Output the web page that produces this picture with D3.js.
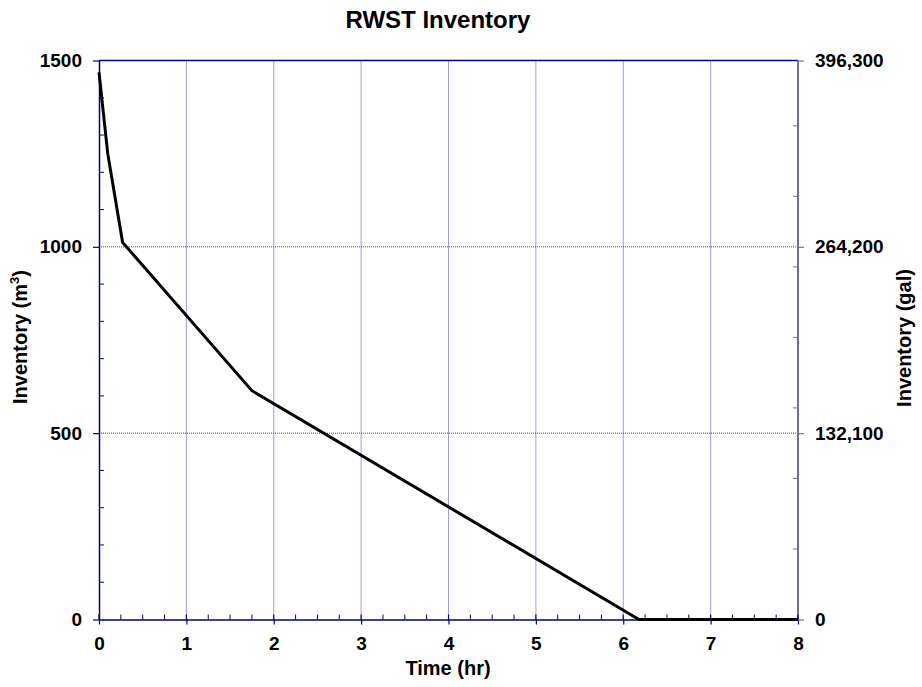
<!DOCTYPE html>
<html><head><meta charset="utf-8">
<script src="https://cdn.jsdelivr.net/npm/d3@7"></script>
<style>body{margin:0;background:#fff}svg{display:block;font-family:"Liberation Sans",Arial,sans-serif;font-weight:bold}</style>
</head><body><svg id="c" width="922" height="687"></svg>
<script>
const timeHr = [0, 0.1, 0.27, 1.75, 6.18, 8];
const inventoryM3 = [1468, 1250, 1012, 614, 0, 0];
const xTicks = [0,1,2,3,4,5,6,7,8];
const yTicks = [0,500,1000,1500];
const galTicks = [0,132100,264200,396300];
const galPerM3 = 264.2;

const svg = d3.select("#c");
const L=99, R=798, T=60.5, B=619.5;
const x = d3.scaleLinear().domain([0,8]).range([L,R]);
const y = d3.scaleLinear().domain([0,1500]).range([B,T]);
const yg = d3.scaleLinear().domain([0,1500*galPerM3]).range([B,T]);

// grid
const g = svg.append("g");
const gridColor = "#3a3ad0";
xTicks.slice(1,-1).forEach(t=>g.append("line").attr("x1",x(t)).attr("x2",x(t)).attr("y1",T).attr("y2",B)
  .attr("stroke",gridColor).attr("stroke-width",1).attr("stroke-dasharray","1,1"));
yTicks.slice(1,-1).forEach(t=>g.append("line").attr("x1",L).attr("x2",R).attr("y1",y(t)).attr("y2",y(t))
  .attr("stroke",gridColor).attr("stroke-width",1).attr("stroke-dasharray","1,1"));

const navy="#000080";
const rightCol="#6f6f9f";
svg.append("line").attr("x1",L).attr("x2",R).attr("y1",T).attr("y2",T).attr("stroke",navy).attr("stroke-width",1.5);
svg.append("line").attr("x1",R).attr("x2",R).attr("y1",T).attr("y2",B).attr("stroke",rightCol).attr("stroke-width",2);

d3.range(0,8.001,0.25).forEach(t=>{ if(Math.abs(t-Math.round(t))>1e-6)
  svg.append("line").attr("x1",x(t)).attr("x2",x(t)).attr("y1",B).attr("y2",B-5).attr("stroke",navy).attr("stroke-width",1);});
d3.range(0,1501,100).forEach(v=>{ if(v%500!==0)
  svg.append("line").attr("x1",L).attr("x2",L+5).attr("y1",y(v)).attr("y2",y(v)).attr("stroke",navy).attr("stroke-width",1);});
d3.range(50000,396300,50000).forEach(v=>
  svg.append("line").attr("x1",R).attr("x2",R-5).attr("y1",yg(v)).attr("y2",yg(v)).attr("stroke",rightCol).attr("stroke-width",1));

const xAxis = svg.append("g").attr("transform",`translate(0,${B})`)
  .call(d3.axisBottom(x).tickValues(xTicks).tickSize(5).tickSizeOuter(0).tickPadding(12).tickFormat(d3.format("d")));
const yAxis = svg.append("g").attr("transform",`translate(${L},0)`)
  .call(d3.axisLeft(y).tickValues(yTicks).tickSize(6).tickSizeOuter(0).tickPadding(11).tickFormat(d3.format("d")));
const yAxisR = svg.append("g").attr("transform",`translate(${R},0)`)
  .call(d3.axisRight(yg).tickValues(galTicks).tickSize(6).tickSizeOuter(0).tickPadding(11).tickFormat(d3.format(",")));
[xAxis,yAxis].forEach(a=>{a.select(".domain").attr("stroke",navy).attr("stroke-width",1.5);a.selectAll(".tick line").attr("stroke",navy).attr("stroke-width",1.2);});
yAxisR.select(".domain").remove();
yAxisR.selectAll(".tick line").attr("stroke",rightCol).attr("stroke-width",1.2);
xTicks.forEach(t=>svg.append("line").attr("x1",x(t)).attr("x2",x(t)).attr("y1",B).attr("y2",B-5).attr("stroke",navy).attr("stroke-width",1.2));
[xAxis,yAxis,yAxisR].forEach(a=>a.selectAll("text").attr("font-size",19).attr("font-weight","bold").attr("fill","#000").attr("font-family","Liberation Sans, Arial, sans-serif"));

const line = d3.line().x((d,i)=>x(timeHr[i])).y(d=>y(d));
svg.append("path").datum(inventoryM3).attr("d",line).attr("fill","none").attr("stroke","#000").attr("stroke-width",3).attr("stroke-linejoin","miter");

svg.append("text").attr("x",438).attr("y",28).attr("text-anchor","middle").attr("font-size",24).text("RWST Inventory");
svg.append("text").attr("x",448).attr("y",675).attr("text-anchor","middle").attr("font-size",20).text("Time (hr)");
const yl = svg.append("text").attr("transform","translate(27,337) rotate(-90)").attr("text-anchor","middle").attr("font-size",20);
yl.append("tspan").text("Inventory (m");
yl.append("tspan").attr("font-size",13).attr("dy",-8).text("3");
yl.append("tspan").attr("dy",8).text(")");
svg.append("text").attr("transform","translate(911,338) rotate(-90)").attr("text-anchor","middle").attr("font-size",20).text("Inventory (gal)");
</script></body></html>
